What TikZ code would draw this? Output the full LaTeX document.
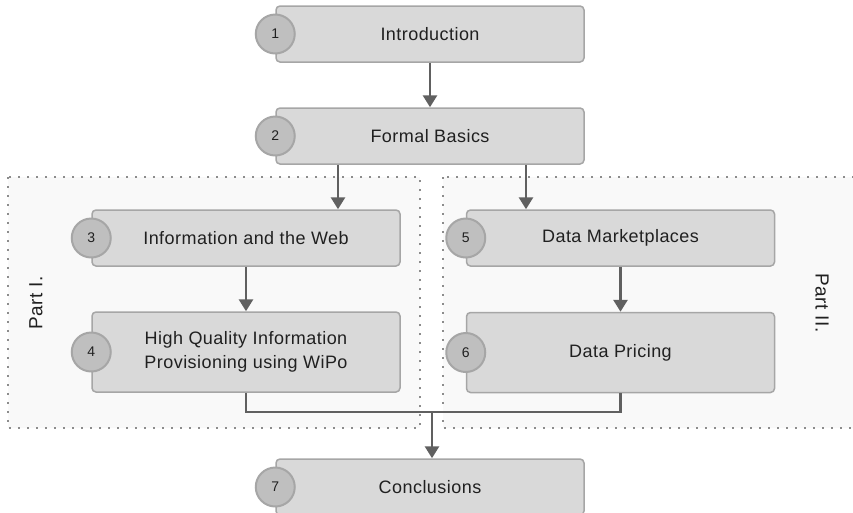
\documentclass[tikz,border=0pt]{standalone}
\usepackage{fontspec}
\setmainfont{Liberation Sans}[LetterSpace=2.5]
\usetikzlibrary{arrows.meta,calc}
\definecolor{boxfill}{HTML}{D9D9D9}
\definecolor{boxline}{HTML}{A6A6A6}
\definecolor{numfill}{HTML}{BFBFBF}
\definecolor{linkcol}{HTML}{606060}
\definecolor{txtcol}{HTML}{202020}
\definecolor{partfill}{HTML}{F9F9F9}
\definecolor{partline}{HTML}{8C8C8C}
\tikzset{
  chapter/.style={rectangle, rounded corners=4pt, draw=boxline, fill=boxfill,
    line width=1.5pt, minimum width=308pt, minimum height=56pt, align=center,
    text=txtcol, font=\fontsize{18}{24}\selectfont, inner sep=0pt},
  num/.style={circle, draw=boxline, fill=numfill, line width=2pt,
    minimum size=39pt, inner sep=0pt, text=txtcol, font=\fontsize{14}{16}\selectfont},
  link/.style={draw=linkcol, line width=2.8pt},
  arr/.style={link, -{Triangle[width=14pt,length=12pt]}},
  part/.style={draw=partline, fill=partfill, line width=1.6pt,
    dash pattern=on 1.6pt off 7.4pt},
  partlabel/.style={text=txtcol, font=\fontsize{19}{21}\selectfont}
}
\begin{document}
\begin{tikzpicture}[x=1pt, y=-1pt]
\useasboundingbox (0,0) rectangle (853,512);

% the two parts
\draw[part] (8,177) rectangle (420,428);
\draw[part] (443,177) rectangle (870,428);
\node[partlabel, rotate=90] (p1) at (36,303) {Part I.};
\node[partlabel, rotate=-90] (p2) at (822,303) {Part II.};

% chapters
\node[chapter] (c1) at (430,34) {Introduction};
\node[chapter] (c2) at (430,136) {Formal Basics};
\node[chapter] (c3) at (246,238) {Information and the Web};
\node[chapter, minimum height=80pt] (c4) at (246,352) {High Quality Information\\Provisioning using WiPo};
\node[chapter] (c5) at (620.5,238) {Data Marketplaces};
\node[chapter, minimum height=80pt] (c6) at (620.5,352.5) {Data Pricing};
\node[chapter] (c7) at (430,487) {Conclusions};

% chapter numbers
\node[num] (n1) at (c1.west) {1};
\node[num] (n2) at (c2.west) {2};
\node[num] (n3) at (c3.west) {3};
\node[num] (n4) at (c4.west) {4};
\node[num] (n5) at (c5.west) {5};
\node[num] (n6) at (c6.west) {6};
\node[num] (n7) at (c7.west) {7};

% connectors
\coordinate (x23) at (338,0);
\coordinate (x25) at (526,0);
\coordinate (merge) at (432,412);
\draw[arr] (c1.south) -- (c2.north);
\draw[arr] (x23 |- c2.south) -- (x23 |- c3.north);
\draw[arr] (x25 |- c2.south) -- (x25 |- c5.north);
\draw[arr] (c3.south) -- (c3.south |- c4.north);
\draw[arr] (c5.south) -- (c5.south |- c6.north);
\draw[link] (c4.south) |- (merge) -| (c6.south);
\draw[arr] (merge) -- (merge |- c7.north);
\end{tikzpicture}
\end{document}
